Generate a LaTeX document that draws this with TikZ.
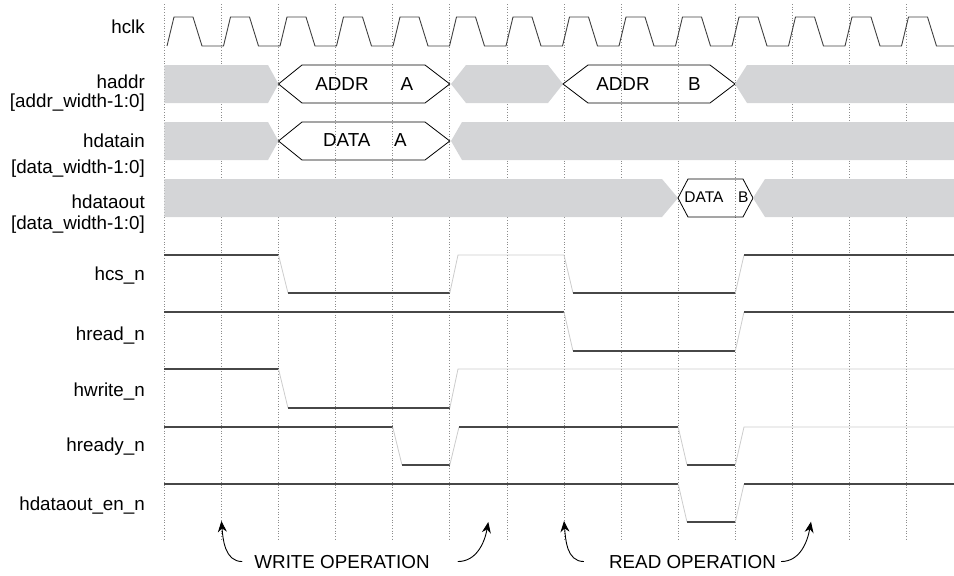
\documentclass[tikz,border=0pt]{standalone}
\usepackage{fontspec}
\setmainfont{Liberation Sans}
\usetikzlibrary{arrows.meta}

\definecolor{busgray}{RGB}{212,213,215}
\newcommand{\lblfont}{\fontsize{18.8}{20}\selectfont}
\newcommand{\smallval}{\fontsize{15.5}{17}\selectfont}

\begin{document}
\begin{tikzpicture}[x=1pt, y=-1pt,
				gridline/.style={dotted, black!45, line width=0.7pt},
				clk/.style={black!75, line width=0.9pt},
				bus/.style={fill=busgray},
				busval/.style={draw=black, line width=0.8pt},
				lvl/.style={black!72, line width=1.1pt},
				trans/.style={black!20, line width=0.8pt},
				lbl/.style={anchor=base east, inner sep=0pt, font=\lblfont},
				val/.style={anchor=base, inner sep=0pt, font=\lblfont},
				note/.style={anchor=base, inner sep=5pt, font=\lblfont},
				opar/.style={-{Stealth[length=11pt,width=9pt]}, line width=0.9pt}
			]
			\useasboundingbox (0,0) rectangle (954,576);
			% clock grid
			\foreach \i in {0,...,13}
				\draw[gridline] (164.3+57.1*\i,4) -- ++(0,537);
			% signal names
			\node[lbl] (hclk) at (145,33) {hclk};
			\node[lbl] (haddr) at (145,88) {haddr};
			\node[lbl] (haddrw) at (145,107) {[addr\_width-1:0]};
			\node[lbl] (hdatain) at (145,147) {hdatain};
			\node[lbl] (hdatainw) at (145,173) {[data\_width-1:0]};
			\node[lbl] (hdataout) at (145,208) {hdataout};
			\node[lbl] (hdataoutw) at (145,229) {[data\_width-1:0]};
			\node[lbl] (hcsn) at (145,280) {hcs\_n};
			\node[lbl] (hreadn) at (145,340.5) {hread\_n};
			\node[lbl] (hwriten) at (145,396.5) {hwrite\_n};
			\node[lbl] (hreadyn) at (145,451.5) {hready\_n};
			\node[lbl] (hdoen) at (145,510) {hdataout\_en\_n};
			% hclk
			\draw[clk] (167,46) \foreach \i in {1,...,13} {
				-- ++(7,-29) -- ++(19,0) -- ++(9,29) -- ++(21.5,0) }
				-- ++(7,-29) -- ++(19,0) -- ++(9,29) -- (954,46);
			% haddr
			\path[bus] (164.3,65) -- (268,65) -- (278.5,84) -- (268,103) -- (164.3,103) -- cycle;
			\path[busval] (278.5,84) -- (302,65) -- (425,65) -- (449.8,84) -- (425,103) -- (302,103) -- cycle;
			\path[bus] (451,84) -- (466,65) -- (548,65) -- (563,84) -- (548,103) -- (466,103) -- cycle;
			\path[busval] (563,84) -- (588,65) -- (710,65) -- (735,84) -- (710,103) -- (588,103) -- cycle;
			\path[bus] (735,84) -- (747,65) -- (954,65) -- (954,103) -- (747,103) -- cycle;
			\node[val] (addra) at (342,90) {ADDR};
			\node[val] (addraid) at (407,90) {A};
			\node[val] (addrb) at (623,90) {ADDR};
			\node[val] (addrbid) at (694.5,90) {B};
			% hdatain
			\path[bus] (164.3,122) -- (268,122) -- (278.5,141) -- (268,160) -- (164.3,160) -- cycle;
			\path[busval] (278.5,141) -- (302,122) -- (425,122) -- (449.8,141) -- (425,160) -- (302,160) -- cycle;
			\path[bus] (451,141) -- (462,122) -- (954,122) -- (954,160) -- (462,160) -- cycle;
			\node[val] (dataa) at (346.7,146.7) {DATA};
			\node[val] (dataaid) at (400.5,146.7) {A};
			% hdataout
			\path[bus] (164.3,179) -- (662,179) -- (678,198) -- (662,217) -- (164.3,217) -- cycle;
			\path[busval] (678,198) -- (688,179) -- (743,179) -- (753,198) -- (743,217) -- (688,217) -- cycle;
			\path[bus] (753,198) -- (765,179) -- (954,179) -- (954,217) -- (765,217) -- cycle;
			\node[val, font=\smallval] (datab) at (704,202.7) {DATA};
			\node[val, font=\smallval] (databid) at (743.3,202.7) {B};
			% hcs_n
			\draw[lvl] (164.3,255) -- (278.5,255);
			\draw[trans] (278.5,255) -- (288,293);
			\draw[lvl] (288,293) -- (449.8,293);
			\draw[trans] (449.8,293) -- (458,255) -- (564,255) -- (573,293);
			\draw[lvl] (573,293) -- (735.3,293);
			\draw[trans] (735.3,293) -- (744,255);
			\draw[lvl] (744,255) -- (954,255);
			% hread_n
			\draw[lvl] (164.3,312) -- (564,312);
			\draw[trans] (564,312) -- (573,351);
			\draw[lvl] (573,351) -- (735.3,351);
			\draw[trans] (735.3,351) -- (744,312);
			\draw[lvl] (744,312) -- (954,312);
			% hwrite_n
			\draw[lvl] (164.3,369) -- (278.5,369);
			\draw[trans] (278.5,369) -- (288,408);
			\draw[lvl] (288,408) -- (449.8,408);
			\draw[trans] (449.8,408) -- (458,369) -- (954,369);
			% hready_n
			\draw[lvl] (164.3,427) -- (392.7,427);
			\draw[trans] (392.7,427) -- (402,465);
			\draw[lvl] (402,465) -- (449.8,465);
			\draw[trans] (449.8,465) -- (459,427);
			\draw[lvl] (459,427) -- (678.2,427);
			\draw[trans] (678.2,427) -- (687,465);
			\draw[lvl] (687,465) -- (735.3,465);
			\draw[trans] (735.3,465) -- (744,427) -- (954,427);
			% hdataout_en_n
			\draw[lvl] (164.3,484) -- (678.2,484);
			\draw[trans] (678.2,484) -- (687,522);
			\draw[lvl] (687,522) -- (735.3,522);
			\draw[trans] (735.3,522) -- (744,484);
			\draw[lvl] (744,484) -- (954,484);
			% operations
			\node[note] (wop) at (342,568) {WRITE OPERATION};
			\node[note] (rop) at (692.5,568) {READ OPERATION};
			\coordinate (wstart) at (221.4,521);
			\coordinate (wend) at (488.3,522);
			\coordinate (rstart) at (564,521);
			\coordinate (rend) at (811,521.7);
			\draw[opar] ([xshift=-7pt]wop.west) to[out=180,in=-85] (wstart);
			\draw[opar] ([xshift=23pt]wop.east) to[out=0,in=-100] (wend);
			\draw[opar] ([xshift=-20pt]rop.west) to[out=180,in=-85] (rstart);
			\draw[opar] (rop.east) to[out=0,in=-100] (rend);
			\end{tikzpicture}
\end{document}
